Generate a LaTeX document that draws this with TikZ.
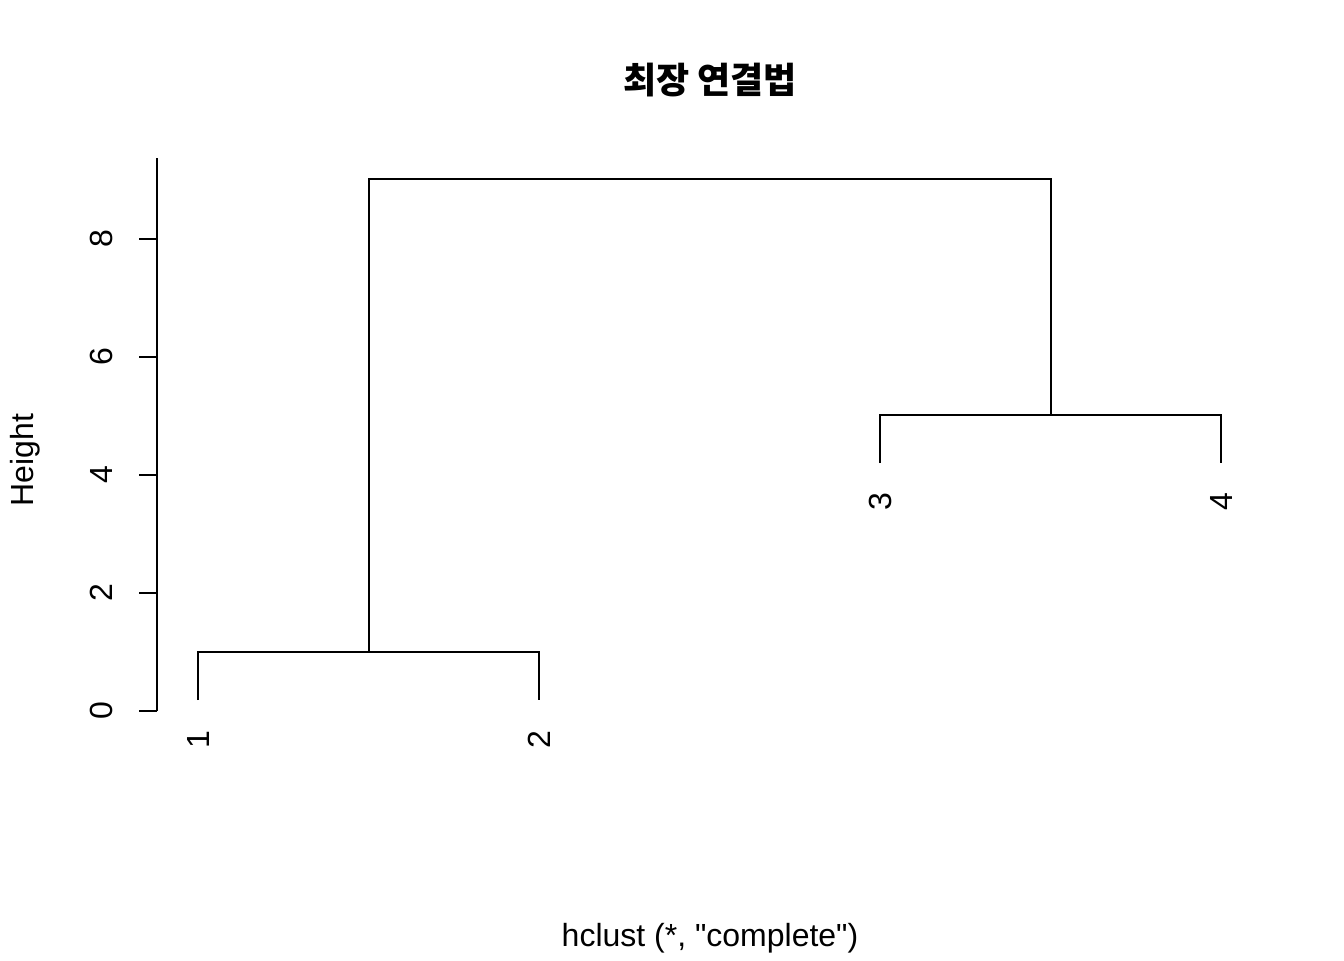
\documentclass[tikz,border=0pt]{standalone}
\usepackage{fontspec}
\setmainfont{Liberation Sans}[Ligatures=TeXOff]
\newfontfamily\krfont{Noto Sans CJK KR}
\begin{document}
\begin{tikzpicture}[x=0.75pt,y=-0.75pt,
  ln/.style={line width=1.5pt,line cap=butt},
  lbl/.style={font=\fontsize{24}{26}\selectfont,inner sep=0pt},
  ttl/.style={font=\krfont\bfseries\fontsize{27}{30}\selectfont,inner sep=0pt}]
\useasboundingbox (0,0) rectangle (1344,960);
% axis
\coordinate (a0) at (157,711);
\coordinate (a8) at (157,158);
\draw[ln] (a0) -- (a8);
\foreach \v in {0,2,4,6,8}{
  \pgfmathsetmacro{\yy}{711-59*\v}
  \coordinate (t\v) at (157,\yy);
  \coordinate (u\v) at (139,\yy);
  \draw[ln] (t\v) -- (u\v);
  \node[lbl,rotate=90] (n\v) at (101,\yy) {\v};
}
% leaves
\coordinate (l1) at (198,700);
\coordinate (l2) at (539,700);
\coordinate (l3) at (880,463);
\coordinate (l4) at (1221,463);
\coordinate (m12a) at (198,652);
\coordinate (m12b) at (539,652);
\coordinate (m34a) at (880,415);
\coordinate (m34b) at (1221,415);
\coordinate (m12) at (369,652);
\coordinate (m34) at (1051,415);
\coordinate (topa) at (369,179);
\coordinate (topb) at (1051,179);
\draw[ln] (l1) -- (m12a) -- (m12b) -- (l2);
\draw[ln] (l3) -- (m34a) -- (m34b) -- (l4);
\draw[ln] (m12) -- (topa) -- (topb) -- (m34);
% leaf labels
\node[lbl,rotate=90,anchor=east] (x1) at (198,730) {1};
\node[lbl,rotate=90,anchor=east] (x2) at (539,730) {2};
\node[lbl,rotate=90,anchor=east] (x3) at (880,492) {3};
\node[lbl,rotate=90,anchor=east] (x4) at (1221,492) {4};
% titles
\node[ttl] (title) at (710,80) {최장 연결법};
\node[lbl,rotate=90] (ylab) at (25,460) {Height};
\node[lbl] (xlab) at (710,938) {hclust (*, "complete")};
\end{tikzpicture}
\end{document}
